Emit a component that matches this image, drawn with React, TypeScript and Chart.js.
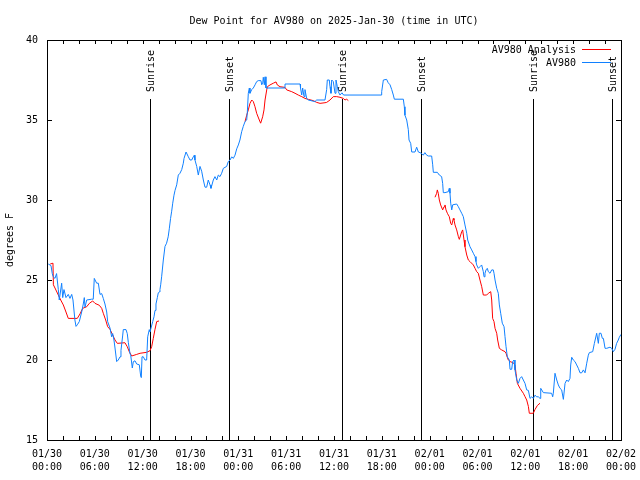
import React, { useEffect, useRef } from "react";
import { Chart, registerables } from "chart.js";

Chart.register(...registerables);

const TITLE = "Dew Point for AV980 on 2025-Jan-30 (time in UTC)";
const Y_TITLE = "degrees F";
const START_UTC = Date.UTC(2025, 0, 30);
const X_MIN = 0;
const X_MAX = 72;
const Y_MIN = 15;
const Y_MAX = 40;

const eventHours = [12.92, 22.8, 37.0, 46.95, 61.0, 70.9];
const eventLabels = ["Sunrise", "Sunset", "Sunrise", "Sunset", "Sunrise", "Sunset"];

const seriesNames = ["AV980 Analysis", "AV980"];
const seriesColors = ["#ff0000", "#1080ff"];

// AV980 Analysis (hours since 01/30 00:00 UTC, deg F); null = gap
const analysisHours = [
  0.4, 0.75, 0.8, 1.0, 1.42, 1.72, 2.05, 2.38, 2.67, 3.8, 4.14, 4.48, 4.98, 5.31, 5.73, 6.02,
  6.56, 6.86, 7.06, 7.36, 7.61, 7.9, 8.24, 8.53, 8.82, 9.78, 10.07, 10.32, 10.62, 11.25, 11.67,
  12.5, 12.92, 13.13, 13.33, 13.55, 13.76, 14.05,
  19.0,
  24.84, 25.05, 25.25, 25.46, 25.68, 25.88, 26.09, 26.3, 26.63, 26.8, 27.05, 27.22, 27.35, 27.56,
  27.64, 27.97, 28.39, 28.73, 28.89, 29.23, 29.85, 30.07, 30.7, 31.11, 31.52, 31.95, 32.36, 32.78,
  33.4, 33.83, 34.25, 34.87, 35.08, 35.5, 35.91, 36.34, 36.75, 37.17, 37.38, 37.59, 37.8,
  43.0,
  48.67, 48.88, 48.96, 49.08, 49.21, 49.38, 49.63, 49.8, 49.92, 50.05, 50.22, 50.34, 50.46, 50.64,
  50.77, 50.97, 51.05, 51.18, 51.39, 51.6, 51.72, 51.89, 52.02, 52.14, 52.31, 52.43, 52.65, 52.85,
  53.06, 53.48, 53.69, 53.9, 54.1, 54.31, 54.53, 54.73, 55.15, 55.36, 55.66, 55.78, 55.9, 56.07,
  56.2, 56.41, 56.53, 56.74, 57.03, 57.45, 57.58, 57.74, 57.87, 58.08, 58.49, 58.7, 58.83, 59.0,
  59.33, 59.75, 59.96, 60.17, 60.38, 60.5, 61.0, 61.21, 61.5, 61.84,
];
const analysisValues = [
  26.0, 26.05, 24.7, 24.5, 24.06, 23.75, 23.44, 23.0, 22.6, 22.6, 22.88, 23.23, 23.33, 23.54, 23.69, 23.54,
  23.42, 23.23, 22.92, 22.5, 22.08, 21.92, 21.56, 21.25, 21.04, 21.08, 20.83, 20.52, 20.25, 20.35, 20.42,
  20.48, 20.58, 20.83, 21.35, 21.92, 22.4, 22.44,
  null,
  34.9, 35.3, 35.63, 36.04, 36.25, 36.15, 35.83, 35.42, 35.0, 34.8, 35.2, 35.63, 36.25, 36.88,
  37.08, 37.19, 37.3, 37.38, 37.19, 37.08, 37.04, 36.88, 36.77, 36.67, 36.56, 36.46, 36.35, 36.29,
  36.21, 36.1, 36.04, 36.08, 36.1, 36.25, 36.46, 36.46, 36.42, 36.35, 36.25, 36.3, 36.21,
  null,
  30.17, 30.42, 30.63, 30.42, 30.0, 29.69, 29.38, 29.58, 29.69, 29.38, 29.17, 29.06, 28.96, 28.54,
  28.44, 28.85, 28.75, 28.44, 28.13, 27.71, 27.54, 27.81, 28.02, 28.13, 27.5, 27.08, 26.56, 26.25,
  26.15, 25.94, 25.73, 25.52, 25.42, 25.0, 24.58, 24.06, 24.06, 24.17, 24.27, 23.75, 22.6, 22.4,
  21.98, 21.67, 21.25, 20.73, 20.63, 20.52, 20.42, 20.17, 20.0, 19.9, 19.83, 19.69, 19.17, 18.54,
  18.23, 17.92, 17.71, 17.5, 17.1, 16.67, 16.67, 16.9, 17.15, 17.3,
];

// AV980 station observations
const stationHours = [
  0.16, 0.5, 0.66, 0.79, 1.0, 1.2, 1.42, 1.54, 1.84, 1.97, 2.13, 2.38, 2.67, 2.88, 3.1, 3.26, 3.5,
  3.64, 3.8, 4.05, 4.35, 4.55, 4.68, 4.77, 4.98, 5.6, 5.8, 5.93, 6.23, 6.44, 6.65, 6.86, 7.06, 7.27,
  7.49, 7.61, 7.9, 8.11, 8.24, 8.4, 8.53, 8.74, 8.94, 9.16, 9.28, 9.5, 9.57, 9.91, 10.07, 10.2,
  10.41, 10.5, 10.7, 10.83, 11.04, 11.25, 11.58, 11.75, 11.83, 11.92, 12.08, 12.29, 12.5, 12.63,
  12.83, 12.92, 13.05, 13.26, 13.42, 13.55, 13.67, 13.84, 13.96, 14.09, 14.17, 14.26, 14.38, 14.59,
  14.8, 15.0, 15.2, 15.34, 15.5, 15.64, 15.77, 15.93, 16.06, 16.27, 16.47, 16.68, 16.9, 17.1,
  17.19, 17.44, 17.73, 17.94, 18.15, 18.35, 18.48, 18.56, 18.78, 18.98, 19.19, 19.4, 19.61, 19.82,
  20.03, 20.23, 20.45, 20.57, 20.86, 21.07, 21.29, 21.49, 21.7, 21.91, 22.12, 22.54, 22.74, 22.96,
  23.17, 23.37, 23.58, 23.8, 24.0, 24.2, 24.42, 24.62, 24.84, 25.05, 25.13, 25.25, 25.38, 25.46,
  25.68, 25.88, 26.1, 26.3, 26.5, 26.84, 26.93, 27.06, 27.13, 27.26, 27.35, 27.47, 29.85, 29.86,
  31.74, 31.8, 31.95, 32.07, 32.24, 32.36, 32.57, 32.78, 33.6, 33.83, 34.87, 35.08, 35.16, 35.41,
  35.5, 35.62, 35.71, 35.91, 36.13, 36.25, 36.42, 36.54, 36.75, 37.0, 37.2, 41.9, 41.98, 42.19,
  42.6, 42.8, 43.03, 43.24, 43.44, 43.57, 44.7, 44.82, 44.9, 45.12, 45.32, 45.41, 45.62, 45.75,
  46.16, 46.37, 46.58, 46.79, 47.0, 47.2, 47.4, 47.63, 47.83, 48.25, 48.38, 48.46, 48.96, 49.21,
  49.5, 49.63, 49.71, 49.92, 50.34, 50.46, 50.55, 50.64, 50.77, 50.89, 51.39, 51.6, 51.8, 52.02,
  52.22, 52.43, 52.65, 52.77, 53.06, 53.27, 53.48, 53.69, 53.81, 53.9, 54.1, 54.3, 54.52, 54.73,
  54.82, 54.94, 55.07, 55.23, 55.36, 55.57, 55.78, 55.98, 56.07, 56.2, 56.41, 56.61, 56.74, 56.91,
  57.11, 57.33, 57.45, 57.58, 57.74, 57.99, 58.08, 58.29, 58.41, 58.58, 58.7, 58.92, 59.12, 59.33,
  59.54, 59.75, 59.96, 60.17, 60.38, 60.59, 60.8, 61.0, 61.21, 61.43, 61.63, 61.84, 61.93, 62.26,
  63.3, 63.43, 63.51, 63.72, 63.94, 64.14, 64.35, 64.56, 64.77, 64.98, 65.19, 65.39, 65.6, 65.69,
  65.82, 66.02, 66.23, 66.44, 66.65, 66.86, 67.07, 67.28, 67.49, 67.7, 67.9, 68.03, 68.45, 68.66,
  68.95, 69.16, 69.28, 69.49, 69.66, 69.79, 70.0, 70.21, 70.62, 70.83, 71.04, 71.25, 71.45, 71.66,
  71.79, 72.0,
];
const stationValues = [
  26.0, 25.9, 25.4, 25.2, 25.1, 25.4, 24.4, 23.75, 24.8, 23.9, 24.4, 23.9, 24.1, 23.85, 24.1, 23.75, 22.5,
  22.1, 22.2, 22.4, 23.0, 23.5, 23.9, 23.3, 23.75, 23.8, 23.8, 25.1, 24.8, 24.8, 24.1, 24.15, 23.85, 23.5,
  23.0, 22.4, 22.0, 21.45, 21.65, 21.25, 20.75, 19.9, 20.0, 20.2, 20.6, 21.56, 21.9, 21.9, 21.65, 21.1,
  20.4, 20.3, 19.5, 19.9, 19.95, 19.75, 19.7, 19.0, 18.9, 20.2, 20.2, 20.0, 20.0, 21.45,
  21.9, 21.75, 22.0, 22.4, 22.7, 23.1, 23.5, 23.9, 24.2, 24.25, 24.4, 24.7, 25.2, 26.25,
  27.1, 27.3, 27.7, 28.2, 28.85, 29.3, 29.8, 30.3, 30.6, 30.95, 31.56, 31.67, 31.9, 32.3,
  32.6, 33.0, 32.7, 32.5, 32.5, 32.7, 32.8, 32.5, 32.1, 31.56, 32.1, 31.8, 31.25, 30.8,
  30.8, 31.25, 30.94, 30.73, 31.25, 31.46, 31.25, 31.56, 31.46, 31.67, 31.98, 32.1, 32.4, 32.5,
  32.7, 32.6, 32.8, 33.2, 33.44, 33.75, 34.27, 34.6, 34.9, 35.0, 35.5, 36.67, 37.0, 36.67,
  36.9, 37.0, 37.2, 37.4, 37.46, 37.46, 37.2, 37.3, 37.67, 37.2, 37.7, 37.0, 37.0, 37.25,
  37.25, 37.0, 36.56, 37.0, 36.46, 36.9, 36.35, 36.25, 36.15, 36.25, 36.25, 36.9, 37.5, 37.5,
  37.08, 36.67, 37.5, 37.4, 36.67, 37.5, 37.08, 36.77, 36.56, 36.7, 36.56, 36.56, 36.77, 37.5,
  37.54, 37.33, 37.2, 36.9, 36.56, 36.3, 36.3, 35.83, 35.3, 35.0, 34.4, 33.75, 33.54, 33.0,
  33.0, 33.3, 33.0, 32.96, 32.9, 32.8, 32.96, 32.8, 32.75, 32.75, 32.2, 31.73, 31.73, 31.56,
  31.46, 31.04, 30.46, 30.46, 30.52, 30.73, 30.42, 29.8, 29.38, 29.7, 29.75, 29.58, 29.38, 29.17,
  28.96, 28.44, 27.92, 27.5, 27.08, 26.88, 26.67, 26.46, 26.15, 25.94, 25.73, 25.83, 25.94, 25.52,
  25.2, 25.42, 25.63, 25.73, 25.52, 25.42, 25.63, 25.63, 25.42, 25.0, 24.48, 24.17, 23.44, 22.92,
  22.3, 22.08, 21.46, 20.83, 20.2, 20.0, 19.42, 19.42, 19.9, 20.0, 19.38, 18.75, 18.54, 18.85,
  18.96, 18.75, 18.54, 18.13, 18.1, 17.6, 17.7, 17.6, 17.8, 17.7, 17.7, 17.6, 18.23, 17.96,
  17.92, 17.7, 17.92, 19.17, 18.75, 18.44, 18.23, 18.13, 17.54, 18.54, 18.75, 18.65, 18.85, 19.69,
  20.17, 20.0, 19.9, 19.69, 19.48, 19.2, 19.2, 19.38, 19.2, 19.8, 20.3, 20.46, 20.52, 21.04,
  21.67, 21.04, 21.67, 21.67, 21.35, 21.35, 20.73, 20.73, 20.8, 20.73, 20.52, 20.67, 21.04, 21.25,
  21.42, 21.6,
];

const FONT_FAMILY = "'DejaVu Sans Mono', monospace";

function pad2(n: number) {
  return n < 10 ? "0" + n : String(n);
}
function tickLabel(h: number): string[] {
  const d = new Date(START_UTC + h * 3600000);
  return [
    `${pad2(d.getUTCMonth() + 1)}/${pad2(d.getUTCDate())}`,
    `${pad2(d.getUTCHours())}:${pad2(d.getUTCMinutes())}`,
  ];
}

function toPoints(xs: number[], ys: (number | null)[]) {
  return xs.map((x, i) => ({ x, y: ys[i] }));
}

const gnuplotPlugin = {
  id: "gnuplotDecor",
  beforeDatasetsDraw(chart: any) {
    const { ctx, chartArea, scales } = chart;
    const xs = scales.x;
    ctx.save();
    ctx.strokeStyle = "#000";
    ctx.lineWidth = 1;
    ctx.fillStyle = "#000";
    ctx.font = `10px ${FONT_FAMILY}`;
    eventHours.forEach((h, i) => {
      const x = Math.round(xs.getPixelForValue(h)) + 0.5;
      ctx.beginPath();
      ctx.moveTo(x, 99);
      ctx.lineTo(x, chartArea.bottom);
      ctx.stroke();
      ctx.save();
      ctx.translate(x + 1, 92);
      ctx.rotate(-Math.PI / 2);
      ctx.textAlign = "left";
      ctx.textBaseline = "middle";
      ctx.fillText(eventLabels[i], 0, 0);
      ctx.restore();
    });
    ctx.restore();
  },
  afterDraw(chart: any) {
    const { ctx, chartArea, scales } = chart;
    const xs = scales.x;
    const ys = scales.y;
    const L = chartArea.left, R = chartArea.right, T = chartArea.top, B = chartArea.bottom;
    ctx.save();
    ctx.strokeStyle = "#000";
    ctx.lineWidth = 1;
    // border
    ctx.strokeRect(Math.round(L) + 0.5, Math.round(T) + 0.5, Math.round(R - L), Math.round(B - T));
    ctx.beginPath();
    for (let h = X_MIN + 2; h < X_MAX; h += 2) {
      const x = Math.round(xs.getPixelForValue(h)) + 0.5;
      ctx.moveTo(x, B);
      ctx.lineTo(x, B - 4);
      ctx.moveTo(x, T);
      ctx.lineTo(x, T + 4);
    }
    for (let v = Y_MIN + 5; v < Y_MAX; v += 5) {
      const y = Math.round(ys.getPixelForValue(v)) + 0.5;
      ctx.moveTo(L, y);
      ctx.lineTo(L + 5, y);
      ctx.moveTo(R, y);
      ctx.lineTo(R - 5, y);
    }
    ctx.stroke();

    // title
    ctx.fillStyle = "#000";
    ctx.font = `10px ${FONT_FAMILY}`;
    ctx.textAlign = "center";
    ctx.textBaseline = "middle";
    ctx.fillText(TITLE, (L + R) / 2, 21);

    // legend (gnuplot style: text right-aligned, sample to the right)
    const rows = [50, 63];
    seriesNames.forEach((name, i) => {
      const y = rows[i];
      ctx.textAlign = "right";
      ctx.fillStyle = "#000";
      ctx.fillText(name, 576, y);
      ctx.strokeStyle = seriesColors[i];
      ctx.beginPath();
      ctx.moveTo(582, y - 0.5);
      ctx.lineTo(611, y - 0.5);
      ctx.stroke();
    });
    ctx.restore();
  },
};

export default function App() {
  const ref = useRef<HTMLCanvasElement | null>(null);
  useEffect(() => {
    if (!ref.current) return;
    const font = { family: FONT_FAMILY, size: 10 };
    const chart = new Chart(ref.current, {
      type: "line",
      data: {
        datasets: [
          {
            label: seriesNames[0],
            data: toPoints(analysisHours, analysisValues) as any,
            borderColor: seriesColors[0],
            borderWidth: 1,
            pointRadius: 0,
            tension: 0,
            spanGaps: false,
            order: 1,
          },
          {
            label: seriesNames[1],
            data: toPoints(stationHours, stationValues) as any,
            borderColor: seriesColors[1],
            borderWidth: 1,
            pointRadius: 0,
            tension: 0,
            order: 0,
          },
        ],
      },
      options: {
        responsive: false,
        animation: false,
        devicePixelRatio: 1,
        events: [],
        layout: { padding: { left: 0, right: 19, top: 40, bottom: 0 } },
        plugins: {
          legend: { display: false },
          title: { display: false },
          tooltip: { enabled: false },
        },
        scales: {
          x: {
            type: "linear",
            min: X_MIN,
            max: X_MAX,
            grid: { display: false, drawTicks: false },
            border: { display: false },
            ticks: {
              stepSize: 6,
              autoSkip: false,
              maxRotation: 0,
              minRotation: 0,
              padding: 8,
              color: "#000",
              font: { ...font, lineHeight: 1.3 },
              callback: (v: any) => tickLabel(Number(v)),
            },
            afterFit: (s: any) => {
              s.height = 40;
              s.paddingLeft = 0;
              s.paddingRight = 0;
            },
          },
          y: {
            min: Y_MIN,
            max: Y_MAX,
            grid: { display: false, drawTicks: false },
            border: { display: false },
            ticks: { stepSize: 5, padding: 9, color: "#000", font },
            title: {
              display: true,
              text: Y_TITLE,
              color: "#000",
              font,
              padding: { top: 4, bottom: 0 },
            },
            afterFit: (s: any) => {
              s.width = 47;
              s.paddingTop = 0;
              s.paddingBottom = 0;
            },
          },
        },
      },
      plugins: [gnuplotPlugin],
    });
    return () => chart.destroy();
  }, []);
  return (
    <div style={{ position: "absolute", left: 0, top: 0, width: 640, height: 480, background: "#fff" }}>
      <canvas ref={ref} width={640} height={480} />
    </div>
  );
}
